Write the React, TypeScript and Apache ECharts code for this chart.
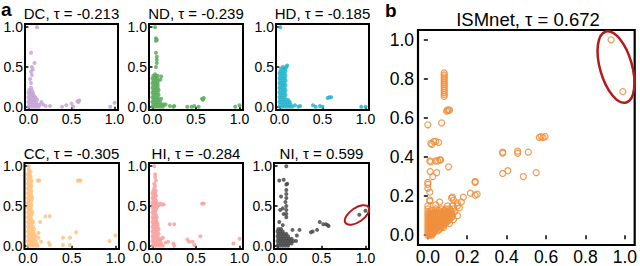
import React, { useEffect, useRef } from "react";
import * as echarts from "echarts";

const FONT = "Liberation Sans, Arial, sans-serif";

const smallTitles = ["DC, τ = -0.213", "ND, τ = -0.239", "HD, τ = -0.185", "CC, τ = -0.305", "HI, τ = -0.284", "NI, τ = 0.599"];
const bigTitle = "ISMnet, τ = 0.672";
const smallColors = ["#c4a4d6", "#5aac5a", "#26b5cd", "#fec27f", "#f9a1a1", "#4a4a4a"];
const bigColor = "#f0903e";
const smallTicks = [0, 0.5, 1];
const bigTicks = [0, 0.2, 0.4, 0.6, 0.8, 1.0];

// dense clusters: rows of [y, x values]
type Rows = [number, number[]][];
const expand = (rows: Rows) => rows.flatMap(([y, xs]) => xs.map((x) => [x, y]));

const dcCluster: Rows = [
  [0.0, [0, 0.03, 0.06, 0.09, 0.12]], [0.03, [0.01, 0.04, 0.07, 0.1, 0.13]], [0.06, [0, 0.03, 0.06, 0.09]],
  [0.09, [0.01, 0.04, 0.07, 0.1]], [0.12, [0, 0.03, 0.06, 0.08]], [0.15, [0.01, 0.04, 0.06]], [0.18, [0, 0.03, 0.05]],
  [0.21, [0.01, 0.04]], [0.24, [0.03]],
];
const dcOutliers = [
  [0.03, 0.3], [0.02, 0.35], [0.04, 0.4], [0.03, 0.44], [0.05, 0.47], [0.04, 0.5], [0.07, 0.55], [0.03, 0.68], [0.1, 1.0], [0.15, 0.06],
  [0.17, 0.03], [0.2, 0.01], [0.25, 0.01], [0.39, 0.0], [0.44, 0.02], [0.5, 0.04], [0.52, 0.0], [0.57, 0.07], [0.59, 0.08], [0.58, 0.06],
  [0.95, 0.0], [1.0, 0.05],
];

const ndCluster: Rows = [
  [0.0, [0, 0.03, 0.06, 0.09, 0.12]], [0.03, [0.01, 0.04, 0.07, 0.1, 0.13]], [0.06, [0, 0.03, 0.06, 0.09]], [0.09, [0.01, 0.04, 0.07]],
  [0.12, [0, 0.03, 0.06]], [0.15, [0.01, 0.04, 0.07]], [0.18, [0, 0.03, 0.06]], [0.21, [0.01, 0.04, 0.07]], [0.24, [0, 0.03, 0.06]],
  [0.27, [0.01, 0.04, 0.06]], [0.3, [0, 0.03, 0.06]], [0.33, [0.01, 0.04, 0.06]], [0.36, [0, 0.03, 0.05]], [0.39, [0.01, 0.04, 0.06]],
  [0.41, [0.03]],
];
const ndOutliers = [
  [0.1, 0.38], [0.09, 0.34], [0.1, 0.1], [0.15, 0.03], [0.2, 0.01], [0.24, 0.0], [0.25, 0.01], [0.4, 0.0], [0.45, 0.0],
  [0.48, 0.01], [0.53, 0.0], [0.57, 0.1], [0.59, 0.11], [0.58, 0.09], [0.95, 0.0], [1.0, 0.02], [0.03, 1.0], [0.04, 0.86], [0.05, 0.84],
  [0.04, 0.83], [0.04, 0.68], [0.05, 0.63], [0.05, 0.59], [0.05, 0.55], [0.04, 0.5],
];

const hdCluster: Rows = [
  [0.0, [0, 0.03, 0.06, 0.09, 0.12, 0.15]], [0.03, [0.01, 0.04, 0.07, 0.1, 0.13]], [0.06, [0, 0.03, 0.06, 0.09, 0.12]],
  [0.09, [0.01, 0.04, 0.07, 0.1]], [0.12, [0, 0.03, 0.06]], [0.15, [0.01, 0.04, 0.07]], [0.18, [0, 0.03, 0.06]],
  [0.21, [0.01, 0.04, 0.07]], [0.24, [0, 0.03, 0.06]], [0.27, [0.01, 0.04, 0.07]], [0.3, [0, 0.03, 0.06]], [0.33, [0.01, 0.04, 0.07]],
  [0.36, [0, 0.03, 0.06]], [0.39, [0.01, 0.04, 0.07]], [0.42, [0, 0.03, 0.06]], [0.45, [0.01, 0.04, 0.07]], [0.48, [0.02, 0.05, 0.07]],
  [0.5, [0.04, 0.08]], [0.52, [0.09]],
];
const hdOutliers = [
  [0.18, 0.02], [0.22, 0.0], [0.24, 0.01], [0.39, 0.02], [0.42, 0.0], [0.47, 0.01], [0.5, 0.0], [0.56, 0.11], [0.58, 0.12], [0.6, 0.12],
  [0.95, 0.0], [1.0, 0.0], [0.01, 1.0],
];

const ccCluster: Rows = [
  [0.0, [0, 0.03, 0.06, 0.09, 0.11]], [0.03, [0.01, 0.04, 0.07, 0.1]], [0.06, [0, 0.03, 0.06, 0.09]], [0.09, [0.01, 0.04, 0.07]],
  [0.12, [0, 0.03, 0.06, 0.09]], [0.15, [0.01, 0.04, 0.07]], [0.18, [0, 0.03, 0.06]], [0.21, [0.01, 0.04, 0.07]], [0.24, [0, 0.03, 0.06]],
  [0.27, [0.01, 0.04]], [0.3, [0, 0.03, 0.06]], [0.33, [0.01, 0.04]], [0.36, [0, 0.03]], [0.39, [0.01, 0.04]], [0.42, [0, 0.03, 0.05]],
  [0.45, [0.01, 0.04]], [0.48, [0, 0.03]], [0.51, [0.01, 0.04]], [0.54, [0, 0.03]], [0.57, [0.01, 0.04]], [0.6, [0, 0.03, 0.05]],
  [0.63, [0.01, 0.04]], [0.66, [0, 0.03]], [0.69, [0.01, 0.04]], [0.72, [0, 0.03]], [0.75, [0.01, 0.04]], [0.78, [0, 0.03]],
  [0.81, [0.01, 0.04]], [0.84, [0, 0.03]], [0.87, [0.01, 0.03]], [0.9, [0, 0.02]], [0.93, [0.01, 0.03]], [0.96, [0.01]], [1.0, [0.01]],
];
const ccOutliers = [
  [0.11, 0.82], [0.13, 0.82], [0.57, 0.82], [0.59, 0.82], [0.6, 0.82], [0.2, 0.37], [0.25, 0.37], [0.14, 0.3], [0.12, 0.16], [0.12, 0.1],
  [0.15, 0.05], [0.24, 0.04], [0.25, 0.01], [0.4, 0.1], [0.48, 0.1], [0.4, 0.01], [0.48, 0.01], [0.55, 0.17], [0.93, 0.06], [1.0, 0.13],
];

const hiCluster: Rows = [
  [0.0, [0, 0.03, 0.06, 0.09, 0.12]], [0.03, [0.01, 0.04, 0.07, 0.1]], [0.06, [0, 0.03, 0.06, 0.09]], [0.09, [0.01, 0.04, 0.07, 0.1]],
  [0.12, [0, 0.03, 0.06]], [0.15, [0.01, 0.04, 0.07]], [0.18, [0, 0.03, 0.06]], [0.21, [0.01, 0.04, 0.07]], [0.24, [0, 0.03, 0.06]],
  [0.27, [0.01, 0.04, 0.06]], [0.3, [0, 0.03, 0.05]], [0.33, [0.01, 0.04]], [0.36, [0, 0.03, 0.05]], [0.39, [0.01, 0.04]],
  [0.42, [0, 0.03]], [0.45, [0.01, 0.04]], [0.48, [0, 0.03, 0.05]], [0.51, [0.01, 0.04, 0.07]], [0.54, [0, 0.03, 0.05]],
  [0.57, [0.01, 0.04]], [0.6, [0, 0.03]], [0.63, [0.01, 0.04]], [0.66, [0, 0.03]], [0.69, [0.01, 0.04]], [0.72, [0.02]],
];
const hiOutliers = [
  [0.02, 1.0], [0.03, 0.9], [0.03, 0.86], [0.04, 0.82], [0.02, 0.78], [0.03, 0.75],
  [0.09, 0.53], [0.11, 0.52], [0.13, 0.52], [0.57, 0.53], [0.59, 0.53], [0.2, 0.27], [0.25, 0.27], [0.12, 0.1], [0.15, 0.04], [0.18, 0.05],
  [0.24, 0.03], [0.25, 0.0], [0.4, 0.08], [0.42, 0.05], [0.46, 0.05], [0.48, 0.01], [0.55, 0.12], [0.93, 0.03], [1.0, 0.09],
];

const niCluster: Rows = [
  [0.0, [0, 0.03, 0.06, 0.09, 0.12]], [0.03, [0.01, 0.04, 0.07, 0.1, 0.13, 0.16]], [0.06, [0, 0.03, 0.06, 0.09, 0.12, 0.15, 0.18, 0.21]],
  [0.09, [0.01, 0.04, 0.07, 0.1, 0.13, 0.16]], [0.12, [0, 0.03, 0.06, 0.09, 0.12]], [0.15, [0.01, 0.04, 0.07, 0.1]],
  [0.18, [0, 0.03, 0.06]], [0.21, [0.01, 0.04]],
];
const niOutliers = [
  [0.1, 1.0], [0.02, 0.82], [0.07, 0.83], [0.1, 0.77], [0.11, 0.78], [0.1, 0.7], [0.1, 0.65], [0.1, 0.6], [0.09, 0.55], [0.1, 0.5],
  [0.1, 0.45], [0.1, 0.4], [0.1, 0.36], [0.04, 0.62], [0.06, 0.47], [0.03, 0.45], [0.07, 0.4], [0.02, 0.3], [0.06, 0.26], [0.17, 0.2],
  [0.25, 0.2], [0.22, 0.13], [0.38, 0.17], [0.4, 0.18], [0.45, 0.2], [0.48, 0.3], [0.52, 0.27], [0.55, 0.27], [0.57, 0.26], [0.58, 0.25],
  [0.93, 0.39], [1.0, 0.44],
];

const ismCluster: Rows = [
  [0.0, [0, 0.01, 0.02]], [0.015, [0, 0.01, 0.02, 0.03]], [0.03, [0, 0.015, 0.03, 0.045, 0.06]],
  [0.045, [0, 0.015, 0.03, 0.045, 0.06, 0.075]], [0.06, [0, 0.015, 0.03, 0.045, 0.06, 0.075, 0.09]],
  [0.075, [0, 0.015, 0.03, 0.045, 0.06, 0.075, 0.09, 0.105]], [0.09, [0, 0.015, 0.03, 0.045, 0.06, 0.075, 0.09, 0.105, 0.12]],
  [0.105, [0, 0.015, 0.03, 0.045, 0.06, 0.075, 0.09, 0.105, 0.12]], [0.12, [0, 0.015, 0.035, 0.05, 0.065, 0.08, 0.1, 0.12, 0.135]],
  [0.135, [0, 0.04, 0.07, 0.09, 0.11, 0.13]], [0.15, [0.0, 0.1, 0.125, 0.15]],
  [0.0075, [0.005, 0.015, 0.025]], [0.0225, [0.005, 0.02, 0.035, 0.05]], [0.0375, [0.005, 0.02, 0.035, 0.05, 0.065]],
  [0.0525, [0.005, 0.02, 0.035, 0.05, 0.065, 0.08]], [0.0675, [0.005, 0.02, 0.035, 0.05, 0.065, 0.08, 0.095]],
  [0.0825, [0.005, 0.02, 0.035, 0.05, 0.065, 0.08, 0.095, 0.11]], [0.0975, [0.005, 0.02, 0.035, 0.05, 0.065, 0.08, 0.095, 0.11, 0.125]],
  [0.1125, [0.005, 0.02, 0.035, 0.05, 0.065, 0.08, 0.095, 0.11]], [0.1275, [0.02, 0.055, 0.085, 0.115]],
];
const ismOutliers = [
  [0.04, 0.155], [0.06, 0.17], [0.12, 0.19], [0.125, 0.195], [0.13, 0.18], [0.15, 0.165], [0.17, 0.17], [0.18, 0.195], [0.16, 0.14],
  [0.13, 0.08], [0.15, 0.1], [0.11, 0.06], [0.08, 0.04],
  [0.0, 0.24], [0.0, 0.26], [0.0, 0.27], [0.01, 0.22], [0.01, 0.18], [0.01, 0.175],
  [0.012, 0.326], [0.045, 0.32], [0.025, 0.3], [0.105, 0.35], [0.01, 0.38], [0.015, 0.375], [0.04, 0.38], [0.05, 0.38], [0.06, 0.385], [0.065, 0.385],
  [0.015, 0.47], [0.02, 0.465], [0.03, 0.48], [0.04, 0.48], [0.055, 0.475], [0.0, 0.565], [0.07, 0.575], [0.095, 0.635], [0.1, 0.64], [0.105, 0.64],
  [0.11, 0.64], [0.083, 0.71], [0.083, 0.72], [0.083, 0.73], [0.083, 0.74], [0.083, 0.75], [0.083, 0.76], [0.083, 0.77], [0.083, 0.78], [0.083, 0.79],
  [0.083, 0.8], [0.083, 0.81], [0.083, 0.82], [0.083, 0.83],
  [0.216, 0.215], [0.24, 0.205], [0.25, 0.21], [0.24, 0.27], [0.24, 0.275], [0.38, 0.316], [0.406, 0.33], [0.38, 0.42], [0.38, 0.425], [0.456, 0.42],
  [0.456, 0.43], [0.485, 0.3], [0.51, 0.425], [0.55, 0.32], [0.566, 0.5], [0.575, 0.505], [0.585, 0.5], [0.595, 0.505], [0.93, 1.0], [0.99, 0.735],
];

const smallData = [
  [...expand(dcCluster), ...dcOutliers],
  [...expand(ndCluster), ...ndOutliers],
  [...expand(hdCluster), ...hdOutliers],
  [...expand(ccCluster), ...ccOutliers],
  [...expand(hiCluster), ...hiOutliers],
  [...expand(niCluster), ...niOutliers],
];
const ismData = [...expand(ismCluster), ...ismOutliers];

const smallGrids = [
  { left: 25, top: 24, width: 93, height: 86 },
  { left: 149, top: 24, width: 94, height: 86 },
  { left: 276, top: 24, width: 93, height: 86 },
  { left: 24, top: 163, width: 95, height: 86 },
  { left: 149, top: 163, width: 94, height: 86 },
  { left: 274, top: 163, width: 95, height: 86 },
];
const bigGrid = { left: 418, top: 30, width: 220, height: 216 };

function axis(i: number, ticks: number[], min: number, max: number, fs: number, tickLen: number, margin: number) {
  return {
    gridIndex: i,
    type: "value",
    min,
    max,
    axisLine: { show: false },
    splitLine: { show: false },
    axisTick: { show: true, length: tickLen, lineStyle: { color: "#000", width: 1.5 }, customValues: ticks },
    axisLabel: {
      customValues: ticks,
      formatter: (v: number) => v.toFixed(1),
      fontSize: fs,
      color: "#000",
      margin,
      fontFamily: FONT,
    },
  };
}

export default function App() {
  const ref = useRef<HTMLDivElement>(null);
  useEffect(() => {
    if (!ref.current) return;
    const chart = echarts.init(ref.current, undefined, { renderer: "svg" });
    const grids: any[] = [];
    const xAxes: any[] = [];
    const yAxes: any[] = [];
    const series: any[] = [];
    const graphics: any[] = [];
    smallGrids.forEach((g, i) => {
      grids.push({ ...g, show: true, borderColor: "#000", borderWidth: 2, backgroundColor: "#fff" });
      xAxes.push(axis(i, smallTicks, -0.04, 1.04, 14, 3, 2));
      yAxes.push(axis(i, smallTicks, -0.04, 1.04, 14, 3, 2));
      series.push({
        type: "scatter",
        xAxisIndex: i,
        yAxisIndex: i,
        data: smallData[i],
        symbolSize: 4,
        itemStyle: { color: smallColors[i], opacity: 0.85 },
      });
      graphics.push({
        type: "text",
        x: g.left + g.width / 2,
        y: i < 3 ? 13 : 153,
        style: { text: smallTitles[i], fill: "#000", fontSize: 15, fontFamily: FONT, align: "center", verticalAlign: "middle" },
      });
    });
    grids.push({ ...bigGrid, show: true, borderColor: "#000", borderWidth: 2.2, backgroundColor: "#fff" });
    xAxes.push(axis(6, bigTicks, -0.05, 1.05, 17.5, 4, 3));
    yAxes.push(axis(6, bigTicks, -0.05, 1.05, 17.5, 4, 4));
    series.push({
      type: "scatter",
      xAxisIndex: 6,
      yAxisIndex: 6,
      data: ismData,
      symbolSize: 6,
      itemStyle: { color: "rgba(0,0,0,0)", borderColor: bigColor, borderWidth: 1.2, opacity: 0.9 },
    });
    graphics.push({
      type: "text",
      x: bigGrid.left + bigGrid.width / 2,
      y: 19,
      style: { text: bigTitle, fill: "#000", fontSize: 18.5, fontFamily: FONT, align: "center", verticalAlign: "middle" },
    });
    graphics.push({ type: "text", x: 1, y: 0, style: { text: "a", fill: "#000", fontSize: 19, fontWeight: "bold", fontFamily: FONT, align: "left", verticalAlign: "top" } });
    graphics.push({ type: "text", x: 385, y: 1, style: { text: "b", fill: "#000", fontSize: 19, fontWeight: "bold", fontFamily: FONT, align: "left", verticalAlign: "top" } });
    graphics.push({
      type: "ellipse",
      x: 616,
      y: 67,
      rotation: 0.28,
      shape: { cx: 0, cy: 0, rx: 16, ry: 37 },
      style: { fill: "none", stroke: "#b31b1b", lineWidth: 2.5 },
      z: 100,
    });
    graphics.push({
      type: "ellipse",
      x: 357,
      y: 215,
      rotation: 0.6,
      shape: { cx: 0, cy: 0, rx: 14, ry: 7 },
      style: { fill: "none", stroke: "#b31b1b", lineWidth: 2 },
      z: 100,
    });
    chart.setOption({
      animation: false,
      backgroundColor: "#fff",
      grid: grids,
      xAxis: xAxes,
      yAxis: yAxes,
      series,
      graphic: graphics,
    });
    return () => chart.dispose();
  }, []);
  return <div ref={ref} style={{ width: 640, height: 266, position: "absolute", left: 0, top: 0 }} />;
}
